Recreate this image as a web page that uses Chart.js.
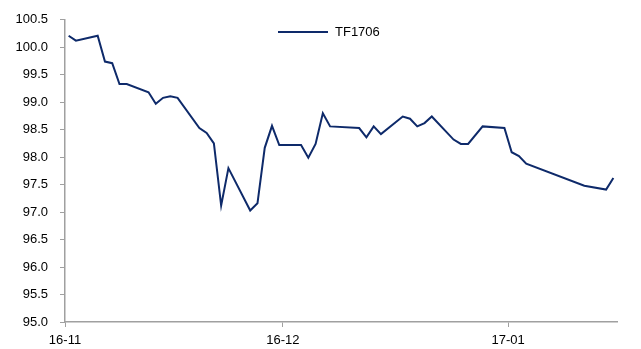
<!DOCTYPE html>
<html>
<head>
<meta charset="utf-8">
<script src="https://cdn.jsdelivr.net/npm/chart.js@4"></script>
<style>
  html, body { margin: 0; padding: 0; background: #fff; }
  #wrap { width: 641px; height: 349px; }
</style>
</head>
<body>
<div id="wrap"><canvas id="tf"></canvas></div>
<script>
// day index counted from 2016-11-01
const days = [0, 1, 4, 5, 6, 7, 8, 11, 12, 13, 14, 15, 18, 19, 20, 21, 22, 25, 26, 27, 28, 29,
  32, 33, 34, 35, 36, 40, 41, 42, 43, 46, 47, 48, 49, 50, 53, 54, 55, 57, 60, 61, 62, 63, 71, 74, 75];
const prices = [100.21, 100.12, 100.21, 99.74, 99.71, 99.33, 99.33, 99.18, 98.97, 99.08, 99.11, 99.08,
  98.53, 98.44, 98.25, 97.12, 97.80, 97.03, 97.16, 98.17, 98.57, 98.22,
  98.22, 97.99, 98.24, 98.80, 98.56, 98.53, 98.36, 98.56, 98.42, 98.74, 98.70, 98.56, 98.62, 98.74,
  98.32, 98.24, 98.24, 98.56, 98.53, 98.09, 98.02, 97.88, 97.48, 97.41, 97.62];
const tickDays = [0, 30, 61];
const tickLabels = ['16-11', '16-12', '17-01'];

const font = { family: 'Liberation Sans', size: 13 };
const axisColor = '#a0a0a0';
const lineColor = '#0e2a6a';

const points = days.map((d, i) => ({ x: d + 0.5, y: prices[i] }));

// legend sits inside the plot, near the top, like the excel one
const innerLegend = {
  id: 'innerLegend',
  afterDraw(chart) {
    const c = chart.ctx;
    const ds = chart.data.datasets[0];
    c.save();
    c.strokeStyle = ds.borderColor;
    c.lineWidth = 2;
    c.beginPath();
    c.moveTo(278, 32);
    c.lineTo(328, 32);
    c.stroke();
    c.fillStyle = '#000';
    c.font = '13px "Liberation Sans"';
    c.textBaseline = 'middle';
    c.fillText(ds.label, 335, 32);
    c.restore();
  }
};

const ctx = document.getElementById('tf').getContext('2d');
new Chart(ctx, {
  type: 'line',
  data: {
    datasets: [{
      label: 'TF1706',
      data: points,
      borderColor: lineColor,
      backgroundColor: lineColor,
      borderWidth: 2,
      pointRadius: 0,
      tension: 0
    }]
  },
  options: {
    responsive: true,
    maintainAspectRatio: false,
    animation: false,
    layout: { padding: { top: 17, right: 24, left: 0, bottom: 0 } },
    plugins: {
      legend: { display: false },
      tooltip: { enabled: false }
    },
    scales: {
      x: {
        type: 'linear',
        min: 0,
        max: 76,
        afterBuildTicks: s => { s.ticks = tickDays.map(v => ({ value: v })); },
        afterFit: s => { s.height = 27; },
        grid: { drawOnChartArea: false, drawTicks: true, tickLength: 5, color: axisColor },
        border: { color: axisColor, width: 1.5 },
        ticks: {
          font: font,
          color: '#000',
          padding: 6,
          maxRotation: 0,
          callback: v => tickLabels[tickDays.indexOf(v)]
        }
      },
      y: {
        min: 95,
        max: 100.5,
        afterFit: s => { s.width = 65; },
        grid: { drawOnChartArea: false, drawTicks: true, tickLength: 5, color: axisColor },
        border: { color: axisColor, width: 1.5 },
        ticks: {
          stepSize: 0.5,
          font: font,
          color: '#000',
          padding: 12,
          callback: v => v.toFixed(1)
        }
      }
    }
  },
  plugins: [innerLegend]
});
</script>
</body>
</html>
